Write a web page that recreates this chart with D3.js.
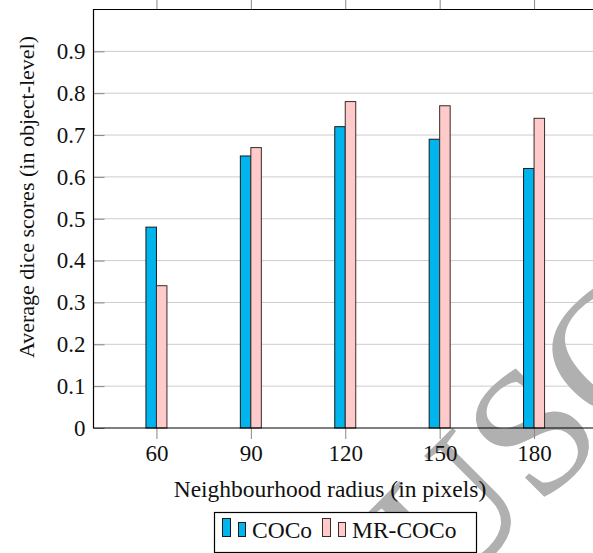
<!DOCTYPE html>
<html>
<head>
<meta charset="utf-8">
<script src="https://cdn.jsdelivr.net/npm/d3@7"></script>
<style>
  body { margin: 0; background: #fff; }
  svg { display: block; }
  text { font-family: "Liberation Serif", "Times New Roman", "DejaVu Serif", serif; }
</style>
</head>
<body>
<svg id="chart" width="593" height="553"></svg>
<script>
// Chart data
const radii = [60, 90, 120, 150, 180];
const cocoScores = [0.48, 0.65, 0.72, 0.69, 0.62];
const mrCocoScores = [0.34, 0.67, 0.78, 0.77, 0.74];
const yTicks = [0, 0.1, 0.2, 0.3, 0.4, 0.5, 0.6, 0.7, 0.8, 0.9];
const seriesNames = ["COCo", "MR-COCo"];

const svg = d3.select("#chart");
const serif = "'Liberation Serif', 'Times New Roman', serif";

// Plot area (right side runs past the window edge)
const plotLeft = 93.5, plotTop = 9.5, plotBottom = 428;
const x = d3.scaleLinear().domain([40, 200]).range([plotLeft, 597]);
const y = d3.scaleLinear().domain([0, 1]).range([plotBottom, plotTop]);
const barW = 10.5;

const colors = { fill: ["#00b5ee", "#ffcaca"], stroke: ["#1a1a1a", "#3a2a2a"] };

// Gridlines
svg.append("g")
  .selectAll("line")
  .data(yTicks.filter((d) => d > 0))
  .enter()
  .append("line")
  .attr("x1", plotLeft).attr("x2", 593)
  .attr("y1", (d) => y(d)).attr("y2", (d) => y(d))
  .attr("stroke", "#cccccc")
  .attr("stroke-width", 1);

// Watermark (sits behind bars and labels)
svg.append("text")
  .attr("transform", "translate(526,432) rotate(-45)")
  .attr("text-anchor", "middle")
  .attr("dy", "0.35em")
  .attr("font-family", serif)
  .attr("font-size", 180)
  .attr("fill", "#b0b0b0")
  .text("USC");

// Y axis tick marks (inside) and labels
const yAxis = d3.axisLeft(y).tickValues(yTicks).tickSize(-11).tickPadding(20)
  .tickFormat((d) => (d === 0 ? "0" : d3.format(".1f")(d)));
const gy = svg.append("g").attr("transform", `translate(${plotLeft},0)`).call(yAxis)
  .attr("font-family", serif);
gy.select(".domain").remove();
gy.selectAll(".tick line").attr("stroke", "#888");
gy.selectAll(".tick text")
  .attr("font-size", 23)
  .attr("fill", "#111")
  .attr("x", -8);

// X axis (bottom, ticks outward) and matching top ticks
const xAxis = d3.axisBottom(x).tickValues(radii).tickSize(11).tickPadding(6);
const gx = svg.append("g").attr("transform", `translate(0,${plotBottom})`).call(xAxis)
  .attr("font-family", serif);
gx.select(".domain").remove();
gx.selectAll(".tick line").attr("stroke", "#888");
gx.selectAll(".tick text")
  .attr("font-size", 23)
  .attr("fill", "#111");

const gxTop = svg.append("g").attr("transform", `translate(0,${plotTop})`)
  .call(d3.axisTop(x).tickValues(radii).tickSize(10).tickFormat(""));
gxTop.select(".domain").remove();
gxTop.selectAll(".tick line").attr("stroke", "#888");

// Bars
const series = [cocoScores, mrCocoScores];
series.forEach((vals, si) => {
  svg.append("g")
    .selectAll("rect")
    .data(vals)
    .enter()
    .append("rect")
    .attr("x", (d, i) => x(radii[i]) + (si === 0 ? -barW : 0))
    .attr("y", (d) => y(d))
    .attr("width", barW)
    .attr("height", (d) => y(0) - y(d))
    .attr("fill", colors.fill[si])
    .attr("stroke", colors.stroke[si])
    .attr("stroke-width", 1);
});

// Frame
svg.append("path")
  .attr("d", `M593,${plotTop}H${plotLeft}V${plotBottom}H593`)
  .attr("fill", "none")
  .attr("stroke", "#000")
  .attr("stroke-width", 1.2);

// Axis titles
svg.append("text")
  .attr("x", 330)
  .attr("y", 497)
  .attr("text-anchor", "middle")
  .attr("font-family", serif)
  .attr("font-size", 23.5)
  .attr("fill", "#111")
  .text("Neighbourhood radius (in pixels)");

svg.append("text")
  .attr("transform", "translate(34,197) rotate(-90)")
  .attr("text-anchor", "middle")
  .attr("font-family", serif)
  .attr("font-size", 22)
  .attr("fill", "#111")
  .text("Average dice scores (in object-level)");

// Legend
const lg = svg.append("g");
lg.append("rect")
  .attr("x", 214.5).attr("y", 512.5)
  .attr("width", 262).attr("height", 40)
  .attr("fill", "#fff").attr("stroke", "#000").attr("stroke-width", 1.2);
const legendX = [222, 322];
seriesNames.forEach((name, si) => {
  const lx = legendX[si];
  lg.append("rect").attr("x", lx + 0.5).attr("y", 518.5).attr("width", 8).attr("height", 18)
    .attr("fill", colors.fill[si]).attr("stroke", colors.stroke[si]);
  lg.append("rect").attr("x", lx + 16.5).attr("y", 522.5).attr("width", 7).attr("height", 14)
    .attr("fill", colors.fill[si]).attr("stroke", colors.stroke[si]);
  lg.append("text").attr("x", lx + 30).attr("y", 538)
    .attr("font-family", serif)
    .attr("font-size", 23.5).attr("fill", "#111").text(name);
});
</script>
</body>
</html>
